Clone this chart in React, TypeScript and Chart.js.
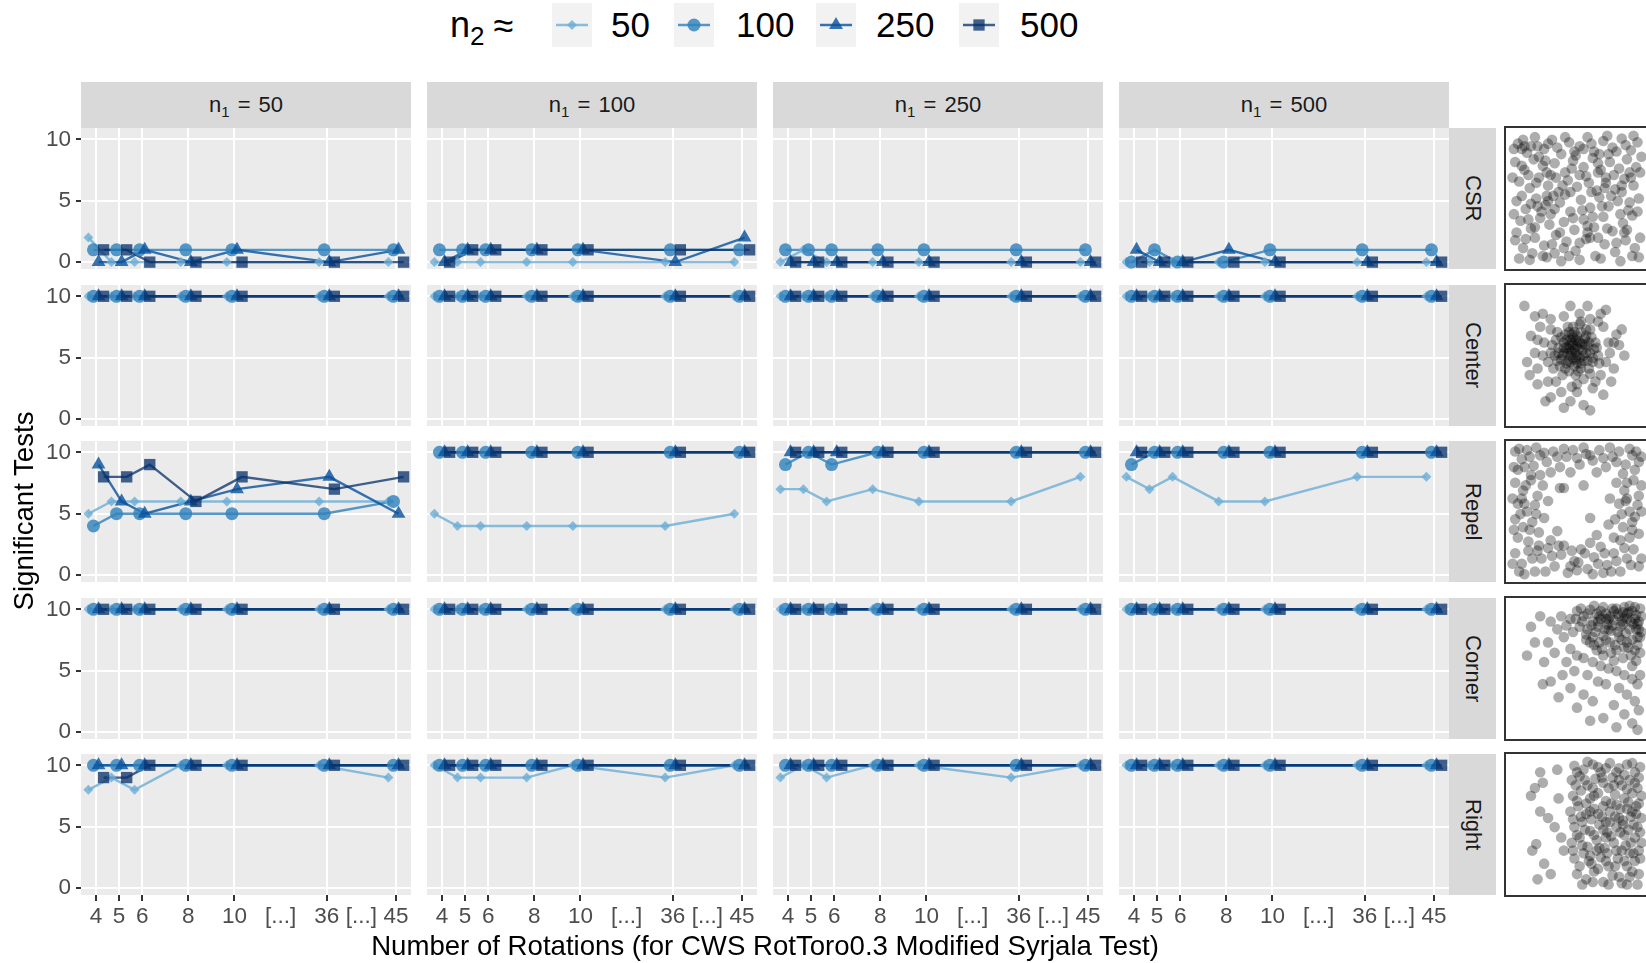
import React, { useEffect, useRef } from 'react';
import { Chart, registerables } from 'chart.js';
import { drawPoint } from 'chart.js/helpers';

Chart.register(...registerables);

const FONT = '"Liberation Sans", Arial, Helvetica, sans-serif';

// ---------- categories / ticks ----------
const rotations = [4, 5, 6, 8, 10, 36, 45];
const rotationAxisPos = [0, 1, 2, 4, 6, 10, 13];
const xTickLabels = ['4', '5', '6', '8', '10', '[...]', '36', '[...]', '45'];
const xTickPos = [0, 1, 2, 4, 6, 8, 10, 11.5, 13];
const yTicks = [0, 5, 10];
const n1Values = ['50', '100', '250', '500'];
const n2Values = ['50', '100', '250', '500'];
const patterns = ['CSR', 'Center', 'Repel', 'Corner', 'Right'];

// ---------- series: [n1 = 50, 100, 250, 500] x rotations ----------
const csr_n2_50 = [[2, 0, 0, 0, 0, 0, 0], [0, 0, 0, 0, 0, 0, 0], [0, 1, 0, 0, 0, 0, 0], [0, 0, 0, 0, 0, 0, 0]];
const csr_n2_100 = [[1, 1, 1, 1, 1, 1, 1], [1, 1, 1, 1, 1, 1, 1], [1, 1, 1, 1, 1, 1, 1], [0, 1, 0, 0, 1, 1, 1]];
const csr_n2_250 = [[0, 0, 1, 0, 1, 0, 1], [0, 1, 1, 1, 1, 0, 2], [0, 0, 0, 0, 0, 0, 0], [1, 0, 0, 1, 0, 0, 0]];
const csr_n2_500 = [[1, 1, 0, 0, 0, 0, 0], [0, 1, 1, 1, 1, 1, 1], [0, 0, 0, 0, 0, 0, 0], [0, 0, 0, 0, 0, 0, 0]];

const center_n2_50 = [[10, 10, 10, 10, 10, 10, 10], [10, 10, 10, 10, 10, 10, 10], [10, 10, 10, 10, 10, 10, 10], [10, 10, 10, 10, 10, 10, 10]];
const center_n2_100 = [[10, 10, 10, 10, 10, 10, 10], [10, 10, 10, 10, 10, 10, 10], [10, 10, 10, 10, 10, 10, 10], [10, 10, 10, 10, 10, 10, 10]];
const center_n2_250 = [[10, 10, 10, 10, 10, 10, 10], [10, 10, 10, 10, 10, 10, 10], [10, 10, 10, 10, 10, 10, 10], [10, 10, 10, 10, 10, 10, 10]];
const center_n2_500 = [[10, 10, 10, 10, 10, 10, 10], [10, 10, 10, 10, 10, 10, 10], [10, 10, 10, 10, 10, 10, 10], [10, 10, 10, 10, 10, 10, 10]];

const repel_n2_50 = [[5, 6, 6, 6, 6, 6, 6], [5, 4, 4, 4, 4, 4, 5], [7, 7, 6, 7, 6, 6, 8], [8, 7, 8, 6, 6, 8, 8]];
const repel_n2_100 = [[4, 5, 5, 5, 5, 5, 6], [10, 10, 10, 10, 10, 10, 10], [9, 10, 9, 10, 10, 10, 10], [9, 10, 10, 10, 10, 10, 10]];
const repel_n2_250 = [[9, 6, 5, 6, 7, 8, 5], [10, 10, 10, 10, 10, 10, 10], [10, 10, 10, 10, 10, 10, 10], [10, 10, 10, 10, 10, 10, 10]];
const repel_n2_500 = [[8, 8, 9, 6, 8, 7, 8], [10, 10, 10, 10, 10, 10, 10], [10, 10, 10, 10, 10, 10, 10], [10, 10, 10, 10, 10, 10, 10]];

const corner_n2_50 = [[10, 10, 10, 10, 10, 10, 10], [10, 10, 10, 10, 10, 10, 10], [10, 10, 10, 10, 10, 10, 10], [10, 10, 10, 10, 10, 10, 10]];
const corner_n2_100 = [[10, 10, 10, 10, 10, 10, 10], [10, 10, 10, 10, 10, 10, 10], [10, 10, 10, 10, 10, 10, 10], [10, 10, 10, 10, 10, 10, 10]];
const corner_n2_250 = [[10, 10, 10, 10, 10, 10, 10], [10, 10, 10, 10, 10, 10, 10], [10, 10, 10, 10, 10, 10, 10], [10, 10, 10, 10, 10, 10, 10]];
const corner_n2_500 = [[10, 10, 10, 10, 10, 10, 10], [10, 10, 10, 10, 10, 10, 10], [10, 10, 10, 10, 10, 10, 10], [10, 10, 10, 10, 10, 10, 10]];

const right_n2_50 = [[8, 9, 8, 10, 10, 10, 9], [10, 9, 9, 9, 10, 9, 10], [9, 10, 9, 10, 10, 9, 10], [10, 10, 10, 10, 10, 10, 10]];
const right_n2_100 = [[10, 10, 10, 10, 10, 10, 10], [10, 10, 10, 10, 10, 10, 10], [10, 10, 10, 10, 10, 10, 10], [10, 10, 10, 10, 10, 10, 10]];
const right_n2_250 = [[10, 10, 10, 10, 10, 10, 10], [10, 10, 10, 10, 10, 10, 10], [10, 10, 10, 10, 10, 10, 10], [10, 10, 10, 10, 10, 10, 10]];
const right_n2_500 = [[9, 9, 10, 10, 10, 10, 10], [10, 10, 10, 10, 10, 10, 10], [10, 10, 10, 10, 10, 10, 10], [10, 10, 10, 10, 10, 10, 10]];

// ---------- example point patterns (read approximately from the thumbnails) ----------
const ptsCSR = [
  [5, 92], [12, 85], [18, 97], [25, 88], [31, 95], [38, 84], [44, 93], [52, 90], [58, 97], [63, 86], [70, 94], [77, 89], [84, 96], [91, 87], [96, 93],
  [3, 78], [10, 72], [17, 80], [24, 75], [33, 77], [41, 70], [47, 79], [55, 74], [62, 81], [68, 72], [75, 78], [82, 73], [88, 80], [95, 74],
  [6, 63], [14, 58], [21, 66], [28, 60], [36, 55], [43, 64], [50, 59], [57, 67], [65, 56], [72, 62], [79, 57], [86, 65], [93, 60],
  [4, 48], [11, 42], [19, 50], [26, 45], [30, 38], [37, 47], [45, 40], [53, 49], [60, 43], [67, 51], [74, 44], [81, 48], [89, 41], [97, 50],
  [7, 33], [15, 27], [22, 35], [29, 30], [34, 22], [40, 32], [48, 26], [55, 34], [63, 28], [70, 36], [77, 25], [85, 31], [92, 37],
  [3, 18], [9, 12], [18, 20], [25, 14], [33, 8], [42, 17], [49, 10], [57, 19], [64, 6], [71, 15], [79, 9], [87, 18], [94, 12],
  [6, 4], [14, 3], [27, 5], [38, 2], [52, 3], [68, 4], [83, 2], [97, 5],
  [8, 88], [10, 90], [27, 70], [30, 68], [32, 52], [28, 48], [66, 70], [72, 66], [60, 20], [58, 24], [45, 55], [90, 70],
  [20, 90], [48, 86], [74, 84], [15, 46], [23, 40], [84, 55], [40, 12], [62, 36], [16, 8], [88, 26],
  [2, 88], [9, 95], [15, 90], [21, 82], [28, 92], [35, 89], [41, 97], [49, 83], [55, 88], [61, 92], [67, 84], [73, 98], [80, 86], [87, 91], [93, 98], [99, 82],
  [1, 66], [8, 75], [13, 68], [19, 62], [26, 79], [34, 66], [39, 60], [46, 73], [52, 68], [59, 62], [66, 77], [71, 58], [78, 68], [84, 60], [91, 66], [98, 70],
  [2, 38], [8, 52], [13, 34], [20, 44], [27, 52], [33, 42], [41, 53], [47, 35], [54, 41], [61, 55], [69, 44], [76, 52], [83, 38], [90, 47], [96, 40],
  [4, 24], [11, 19], [18, 28], [24, 6], [31, 15], [37, 24], [44, 6], [52, 16], [58, 29], [66, 20], [73, 27], [80, 16], [86, 24], [92, 6], [98, 20]
];
const ptsCenter = [
  [48, 55], [44, 58], [52, 60], [40, 52], [55, 50], [47, 48], [50, 65], [42, 62], [58, 57], [36, 56], [45, 45], [53, 44], [60, 52], [38, 47],
  [49, 52], [46, 60], [56, 63], [41, 40], [51, 38], [62, 45], [34, 62], [44, 68], [57, 70], [30, 52], [64, 60], [47, 72], [39, 35], [55, 32],
  [66, 50], [28, 45], [43, 52], [50, 57], [54, 54], [45, 50], [48, 42], [58, 46], [40, 60], [52, 48], [37, 42], [61, 64], [33, 50], [49, 62],
  [44, 38], [59, 40], [46, 66], [53, 68], [35, 68], [63, 55], [42, 56], [50, 50], [56, 58], [38, 64], [47, 64], [60, 36], [32, 40], [52, 74],
  [46, 53], [49, 47], [43, 46], [54, 59], [51, 55], [40, 56], [57, 52], [45, 62], [48, 68], [53, 40], [42, 44], [59, 60], [36, 52], [62, 48],
  [47, 58], [51, 61], [44, 55], [55, 46], [50, 44], [39, 50], [57, 65], [41, 66], [35, 46], [65, 56], [49, 35], [43, 72], [60, 70], [31, 58],
  [67, 44], [53, 76],
  [20, 40], [25, 60], [22, 72], [30, 78], [40, 80], [52, 82], [60, 78], [70, 72], [74, 60], [72, 45], [68, 35], [62, 25], [50, 22], [38, 22],
  [28, 30], [18, 52], [15, 65], [24, 82], [45, 88], [58, 88], [68, 82], [80, 66], [82, 58], [78, 40], [70, 20], [55, 12], [40, 10], [30, 18],
  [20, 28], [12, 45], [10, 88], [18, 80], [72, 85], [84, 70], [86, 50], [76, 30], [60, 8], [45, 15], [26, 15], [14, 35],
  [24, 50], [75, 52], [50, 28], [34, 30], [64, 30], [30, 70], [66, 76], [20, 62], [78, 60], [46, 26]
];
const ptsRepel = [
  [3, 96], [8, 90], [12, 97], [17, 85], [22, 93], [27, 88], [32, 96], [37, 84], [42, 92], [47, 97], [52, 86], [57, 94], [62, 89], [67, 97],
  [72, 84], [77, 92], [82, 96], [87, 86], [92, 93], [97, 88], [5, 82], [15, 78], [45, 80], [65, 80], [85, 79], [30, 80],
  [3, 72], [9, 66], [15, 74], [20, 62], [5, 56], [12, 50], [18, 55], [3, 44], [9, 38], [16, 42], [21, 34], [5, 30], [13, 27], [24, 70], [25, 45], [8, 60], [28, 58],
  [80, 72], [86, 66], [93, 74], [97, 62], [82, 56], [90, 50], [96, 55], [79, 44], [85, 38], [92, 42], [97, 33], [83, 28], [90, 30], [75, 60], [74, 40], [88, 60],
  [3, 18], [8, 10], [13, 20], [18, 4], [23, 14], [28, 22], [33, 8], [38, 17], [43, 3], [48, 12], [53, 21], [58, 6], [63, 15], [68, 23],
  [73, 9], [78, 18], [83, 4], [88, 14], [93, 21], [97, 8], [6, 4], [40, 24], [60, 26], [30, 28], [50, 5], [70, 3],
  [37, 68], [40, 68], [60, 45], [55, 70], [35, 35], [65, 32], [10, 84], [94, 82], [20, 20], [80, 12],
  [2, 84], [6, 98], [14, 92], [19, 99], [25, 95], [35, 92], [40, 98], [50, 91], [55, 99], [60, 93], [70, 91], [75, 99], [80, 88], [90, 98], [95, 96], [99, 92],
  [1, 60], [7, 48], [11, 70], [2, 36], [14, 36], [19, 48], [10, 56], [22, 78],
  [99, 70], [88, 72], [94, 46], [99, 50], [84, 48], [92, 36], [87, 58], [78, 30],
  [1, 10], [10, 2], [16, 14], [21, 24], [26, 4], [31, 16], [36, 24], [46, 20], [51, 11], [56, 18], [66, 10], [71, 18], [76, 4], [86, 22], [91, 9], [99, 14], [45, 8], [62, 2]
];
const ptsCorner = [
  [60, 95], [65, 92], [70, 97], [75, 90], [80, 96], [85, 93], [90, 98], [95, 91], [98, 96], [62, 86], [68, 88], [73, 84], [78, 87], [83, 82],
  [88, 88], [93, 84], [97, 80], [55, 90], [50, 94], [45, 88], [58, 80], [64, 78], [70, 75], [76, 79], [82, 74], [87, 77], [92, 72], [96, 68],
  [52, 82], [47, 78], [42, 83], [57, 72], [63, 68], [69, 65], [75, 70], [80, 64], [86, 66], [91, 60], [95, 56], [98, 74], [72, 92], [86, 97],
  [78, 94], [66, 82], [90, 80], [84, 86], [94, 88], [60, 70], [88, 70], [76, 62], [68, 94], [82, 90], [92, 94], [74, 80], [96, 84],
  [58, 92], [63, 98], [67, 90], [72, 88], [77, 96], [81, 92], [86, 89], [89, 93], [94, 97], [97, 86], [99, 90], [61, 83], [66, 86], [71, 80],
  [77, 83], [81, 78], [85, 84], [91, 86], [95, 80], [99, 78], [54, 86], [49, 88], [53, 96], [57, 76], [62, 74], [67, 70], [72, 72], [79, 68],
  [84, 72], [89, 66], [94, 64], [98, 62], [70, 60], [78, 56], [85, 58], [92, 52], [65, 64], [74, 88], [88, 92], [96, 74],
  [40, 74], [35, 80], [38, 90], [30, 86], [45, 65], [50, 60], [55, 58], [62, 55], [68, 52], [74, 50], [80, 48], [86, 45], [92, 42], [96, 38],
  [42, 55], [48, 48], [58, 45], [66, 40], [72, 38], [82, 35], [88, 30], [94, 25], [98, 45], [28, 70], [33, 62], [39, 45],
  [15, 82], [22, 90], [18, 70], [12, 60], [25, 55], [30, 40], [45, 35], [55, 30], [62, 25], [78, 22], [86, 15], [92, 8], [97, 18],
  [70, 12], [50, 20], [36, 28], [24, 38], [60, 10], [80, 5], [96, 3]
];
const ptsRight = [
  [22, 90], [18, 78], [24, 82], [15, 72], [28, 55], [22, 60], [33, 48], [19, 35], [16, 30], [25, 20], [30, 12], [20, 8], [36, 70], [35, 92], [40, 30], [38, 40],
  [48, 95], [55, 92], [62, 96], [68, 90], [75, 97], [82, 93], [88, 96], [94, 90], [98, 94],
  [46, 84], [52, 87], [58, 80], [64, 85], [70, 82], [77, 86], [84, 80], [90, 84], [96, 78],
  [47, 72], [53, 76], [60, 70], [66, 74], [72, 68], [79, 73], [86, 70], [92, 74], [97, 66],
  [45, 60], [51, 64], [57, 58], [63, 62], [69, 56], [75, 60], [82, 55], [88, 62], [95, 58],
  [48, 48], [54, 52], [60, 45], [67, 50], [73, 44], [80, 48], [86, 42], [93, 50], [98, 44],
  [46, 36], [52, 40], [58, 33], [65, 38], [71, 32], [78, 36], [84, 30], [91, 36], [97, 30],
  [48, 24], [55, 28], [61, 20], [68, 25], [74, 18], [81, 24], [88, 18], [94, 22],
  [50, 12], [57, 8], [63, 14], [70, 6], [77, 11], [84, 5], [90, 10], [96, 4],
  [80, 65], [85, 50], [90, 28], [75, 52], [65, 30], [92, 60], [78, 80], [60, 60], [82, 10], [72, 40],
  [50, 90], [58, 98], [66, 94], [72, 93], [80, 90], [86, 88], [92, 97], [97, 86],
  [49, 80], [56, 84], [62, 78], [69, 86], [74, 78], [82, 84], [88, 77], [94, 82], [99, 72],
  [50, 68], [57, 66], [63, 72], [70, 64], [76, 66], [83, 62], [89, 67], [95, 64], [99, 55],
  [47, 54], [53, 56], [61, 54], [66, 58], [72, 52], [79, 56], [85, 53], [91, 56], [96, 48],
  [50, 42], [56, 46], [63, 42], [70, 46], [76, 41], [83, 44], [89, 46], [94, 40], [99, 36],
  [47, 30], [54, 34], [60, 26], [67, 32], [73, 28], [80, 30], [87, 34], [93, 28], [98, 24],
  [52, 18], [59, 22], [66, 16], [72, 22], [79, 18], [86, 22], [92, 14], [97, 12], [54, 4], [62, 6], [74, 4], [88, 4]
];

const patternSeries = [
  [csr_n2_50, csr_n2_100, csr_n2_250, csr_n2_500],
  [center_n2_50, center_n2_100, center_n2_250, center_n2_500],
  [repel_n2_50, repel_n2_100, repel_n2_250, repel_n2_500],
  [corner_n2_50, corner_n2_100, corner_n2_250, corner_n2_500],
  [right_n2_50, right_n2_100, right_n2_250, right_n2_500],
];
const patternPoints = [ptsCSR, ptsCenter, ptsRepel, ptsCorner, ptsRight];

// ---------- styles ----------
const seriesColors = ['rgba(107,174,214,0.8)', 'rgba(49,130,189,0.82)', 'rgba(8,81,156,0.8)', 'rgba(8,48,107,0.76)'];
const pointStyles = ['rectRot', 'circle', 'triangle', 'rect'];
const pointRadii = [5, 6.5, 8, 8];
const dodge = [-0.33, -0.11, 0.11, 0.33];

// ---------- layout ----------
const COL_LEFT = [81, 427, 773, 1119];
const PANEL_W = 330;
const ROW_TOP = [128, 285, 441, 598, 754];
const PANEL_H = 141;
const Y_AXIS_W = 50;
const X_AXIS_H = 40;
const X_MIN = -0.65, X_MAX = 13.65;
const Y_MIN = -0.56, Y_MAX = 10.92;

const isBracket = (v: number) => xTickLabels[xTickPos.indexOf(v)] === '[...]';

const bgPlugin = {
  id: 'panelBg',
  beforeDraw(chart: any) {
    const { ctx, chartArea: a } = chart;
    ctx.save();
    ctx.fillStyle = '#EBEBEB';
    ctx.fillRect(a.left, a.top, a.right - a.left, a.bottom - a.top);
    ctx.restore();
  },
};

const zeroPad = (s: any) => {
  s.paddingTop = 0; s.paddingBottom = 0; s.paddingLeft = 0; s.paddingRight = 0;
};

function Panel({ r, c }: { r: number; c: number }) {
  const ref = useRef<HTMLCanvasElement>(null);
  const isLeft = c === 0;
  const isBottom = r === patterns.length - 1;
  const left = COL_LEFT[c] - (isLeft ? Y_AXIS_W : 0);
  const top = ROW_TOP[r];
  const w = PANEL_W + (isLeft ? Y_AXIS_W : 0);
  const h = PANEL_H + (isBottom ? X_AXIS_H : 0);

  useEffect(() => {
    const series = patternSeries[r];
    const datasets: any[] = [];
    series.forEach((s, k) => {
      const pts = rotations.map((_, i) => ({ x: rotationAxisPos[i] + dodge[k], y: s[c][i] }));
      datasets.push({
        label: 'line' + n2Values[k], data: pts, showLine: true, pointRadius: 0,
        borderColor: seriesColors[k], borderWidth: 2.4, order: 20 - k, clip: 8,
      });
      datasets.push({
        label: n2Values[k], data: pts, showLine: false, pointRadius: pointRadii[k],
        pointStyle: pointStyles[k], backgroundColor: seriesColors[k], borderColor: seriesColors[k],
        borderWidth: 0, pointBorderWidth: 0, order: 10 - k, clip: 8,
      });
    });
    const chart = new Chart(ref.current as HTMLCanvasElement, {
      type: 'scatter',
      data: { datasets },
      plugins: [bgPlugin],
      options: {
        animation: false,
        responsive: false,
        devicePixelRatio: 1,
        events: [],
        layout: { padding: 0, autoPadding: false },
        plugins: { legend: { display: false }, tooltip: { enabled: false } },
        scales: {
          x: {
            type: 'linear', min: X_MIN, max: X_MAX,
            afterBuildTicks: (s: any) => { s.ticks = xTickPos.map((v) => ({ value: v })); },
            afterFit: (s: any) => { s.height = isBottom ? X_AXIS_H : 0; zeroPad(s); },
            ticks: {
              display: isBottom, autoSkip: false, maxRotation: 0, minRotation: 0, padding: 2,
              color: '#4D4D4D', font: { family: FONT, size: 22.5 },
              callback: (_v: any, i: number) => xTickLabels[i],
            },
            grid: {
              color: (ctx: any) => (ctx.tick && isBracket(ctx.tick.value) ? 'rgba(0,0,0,0)' : '#FFFFFF'),
              lineWidth: 2, drawTicks: isBottom, tickLength: 6, tickWidth: 2,
              tickColor: (ctx: any) => (ctx.tick && isBracket(ctx.tick.value) ? 'rgba(0,0,0,0)' : '#333333'),
            },
            border: { display: false },
          },
          y: {
            type: 'linear', min: Y_MIN, max: Y_MAX,
            afterBuildTicks: (s: any) => { s.ticks = yTicks.map((v) => ({ value: v })); },
            afterFit: (s: any) => { s.width = isLeft ? Y_AXIS_W : 0; zeroPad(s); },
            ticks: { display: isLeft, padding: 5, color: '#4D4D4D', font: { family: FONT, size: 22.5 } },
            grid: { color: '#FFFFFF', lineWidth: 2, drawTicks: isLeft, tickLength: 5, tickWidth: 2, tickColor: '#333333' },
            border: { display: false },
          },
        },
      } as any,
    });
    return () => chart.destroy();
  }, [r, c]);

  return (
    <canvas ref={ref} width={w} height={h}
      style={{ position: 'absolute', left, top, width: w, height: h }} />
  );
}

function PatternBox({ r }: { r: number }) {
  const ref = useRef<HTMLCanvasElement>(null);
  const size = 141;
  useEffect(() => {
    const chart = new Chart(ref.current as HTMLCanvasElement, {
      type: 'scatter',
      data: {
        datasets: [{
          data: patternPoints[r].map(([x, y]) => ({ x, y })),
          pointRadius: 5.3, backgroundColor: 'rgba(0,0,0,0.32)', borderWidth: 0, pointBorderWidth: 0,
        }],
      },
      options: {
        animation: false, responsive: false, devicePixelRatio: 1, events: [],
        layout: { padding: 0, autoPadding: false },
        plugins: { legend: { display: false }, tooltip: { enabled: false } },
        scales: {
          x: { display: false, min: -4, max: 104 },
          y: { display: false, min: -4, max: 104 },
        },
      } as any,
    });
    return () => chart.destroy();
  }, [r]);
  return (
    <div style={{
      position: 'absolute', left: 1504, top: ROW_TOP[r] - 2, width: 146, height: 145,
      border: '2px solid #333', boxSizing: 'border-box', background: '#fff', overflow: 'hidden',
    }}>
      <canvas ref={ref} width={size + 1} height={size} style={{ display: 'block', width: size + 1, height: size }} />
    </div>
  );
}

const KW = 40, KH = 44;
function LegendKey({ k, left }: { k: number; left: number }) {
  const ref = useRef<HTMLCanvasElement>(null);
  useEffect(() => {
    const cv = ref.current as HTMLCanvasElement;
    const ctx = cv.getContext('2d') as CanvasRenderingContext2D;
    ctx.clearRect(0, 0, KW, KH);
    ctx.fillStyle = '#F2F2F2';
    ctx.fillRect(0, 0, KW, KH);
    ctx.strokeStyle = seriesColors[k];
    ctx.lineWidth = 2.5;
    ctx.beginPath();
    ctx.moveTo(4, KH / 2);
    ctx.lineTo(KW - 4, KH / 2);
    ctx.stroke();
    ctx.fillStyle = seriesColors[k];
    drawPoint(ctx, { pointStyle: pointStyles[k], radius: pointRadii[k], rotation: 0, borderWidth: 0 } as any, KW / 2, KH / 2);
  }, [k]);
  return <canvas ref={ref} width={KW} height={KH} style={{ position: 'absolute', left, top: 3, width: KW, height: KH }} />;
}

const legendKeyLeft = [552, 674, 816, 959];
const legendTextLeft = [611, 736, 876, 1020];

export default function App() {
  return (
    <div style={{
      position: 'absolute', left: 0, top: 0, width: 1646, height: 963, overflow: 'hidden',
      background: '#FFFFFF', fontFamily: FONT, color: '#000',
    }}>
      {/* legend */}
      <div style={{ position: 'absolute', left: 450, top: 0, height: 50, lineHeight: '50px', fontSize: 36, whiteSpace: 'nowrap' }}>
        n<span style={{ fontSize: 26, position: 'relative', top: 8 }}>2</span>
        <span style={{ position: 'relative', top: 1, marginLeft: 9 }}>≈</span>
      </div>
      {n2Values.map((v, k) => (
        <React.Fragment key={'lg' + k}>
          <LegendKey k={k} left={legendKeyLeft[k]} />
          <div style={{ position: 'absolute', left: legendTextLeft[k], top: 0, height: 50, lineHeight: '50px', fontSize: 35, whiteSpace: 'nowrap' }}>{v}</div>
        </React.Fragment>
      ))}

      {/* top strips */}
      {n1Values.map((v, c) => (
        <div key={'ts' + c} style={{
          position: 'absolute', left: COL_LEFT[c], top: 82, width: PANEL_W, height: 46, background: '#D9D9D9',
          display: 'flex', alignItems: 'center', justifyContent: 'center', fontSize: 22, color: '#1A1A1A', whiteSpace: 'pre',
        }}>
          <span style={{ wordSpacing: 2 }}>n<span style={{ fontSize: 15, position: 'relative', top: 5 }}>1</span>{' = '}{v}</span>
        </div>
      ))}

      {/* panels */}
      {patterns.map((_, r) => n1Values.map((__, c) => <Panel key={'p' + r + '_' + c} r={r} c={c} />))}

      {/* right strips */}
      {patterns.map((p, r) => (
        <div key={'rs' + r} style={{
          position: 'absolute', left: 1449, top: ROW_TOP[r], width: 47, height: PANEL_H, background: '#D9D9D9',
          display: 'flex', alignItems: 'center', justifyContent: 'center',
        }}>
          <span style={{ writingMode: 'vertical-rl', fontSize: 22, color: '#1A1A1A' }}>{p}</span>
        </div>
      ))}

      {/* pattern thumbnails */}
      {patterns.map((_, r) => <PatternBox key={'pb' + r} r={r} />)}

      {/* axis titles */}
      <div style={{
        position: 'absolute', left: 215, top: 930, width: 1100, height: 32, lineHeight: '32px',
        textAlign: 'center', fontSize: 27.6, whiteSpace: 'nowrap',
      }}>Number of Rotations (for CWS RotToro0.3 Modified Syrjala Test)</div>
      <div style={{
        position: 'absolute', left: 24 - 200, top: 511 - 16, width: 400, height: 32, lineHeight: '32px',
        textAlign: 'center', fontSize: 27.6, whiteSpace: 'nowrap', transform: 'rotate(-90deg)',
      }}>Significant Tests</div>
    </div>
  );
}
